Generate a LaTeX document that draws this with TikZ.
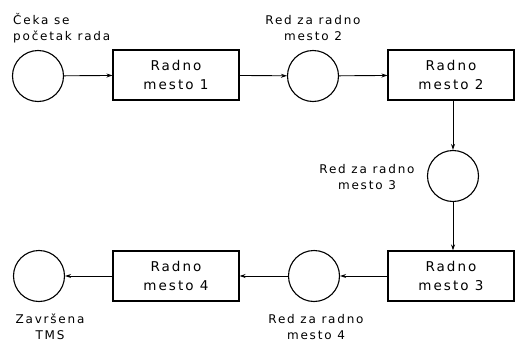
\documentclass[tikz,border=0pt]{standalone}
\usepackage{fontspec}
\newfontfamily\tmsfont[LetterSpace=15]{DejaVu Sans}
\usetikzlibrary{arrows.meta}
\begin{document}
\begin{tikzpicture}[x=1pt,y=-1pt,
  place/.style={draw,line width=1.1pt,circle,minimum size=51pt,inner sep=0pt},
  station/.style={draw,line width=1.1pt,minimum width=126pt,minimum height=50pt,align=center,
    font=\tmsfont\fontsize{13.5}{19}\selectfont},
  lbl/.style={align=center,inner sep=0pt,font=\tmsfont\fontsize{12}{16}\selectfont},
  arr/.style={line width=0.9pt,-{Stealth[length=6pt,width=4pt]}}]
\useasboundingbox (0,0) rectangle (515,343);
% places (queues) and work stations
\node[place] (C1) at (38,76) {};
\node[station] (B1) at (176,75) {Radno\\mesto 1};
\node[place] (C2) at (313,76) {};
\node[station] (B2) at (451,75) {Radno\\mesto 2};
\node[place] (C3) at (453,176) {};
\node[station] (B3) at (451,276) {Radno\\mesto 3};
\node[place] (C4) at (314,276) {};
\node[station] (B4) at (176,276) {Radno\\mesto 4};
\node[place] (C5) at (39,276) {};
% labels
\node[lbl,align=left,anchor=north west] (L1) at (13,13) {Čeka se\\početak rada};
\node[lbl] (L2) at (313,28) {Red za radno\\mesto 2};
\node[lbl] (L3) at (367,177) {Red za radno\\mesto 3};
\node[lbl] (L4) at (316,327) {Red za radno\\mesto 4};
\node[lbl] (L5) at (50,327) {Završena\\TMS};
% flow
\draw[arr] (C1) -- (B1);
\draw[arr] (B1) -- (C2);
\draw[arr] (C2) -- (B2);
\draw[arr] (B2.south -| C3) -- (C3);
\draw[arr] (C3) -- (B3.north -| C3);
\draw[arr] (B3) -- (C4);
\draw[arr] (C4) -- (B4);
\draw[arr] (B4) -- (C5);
\end{tikzpicture}
\end{document}
